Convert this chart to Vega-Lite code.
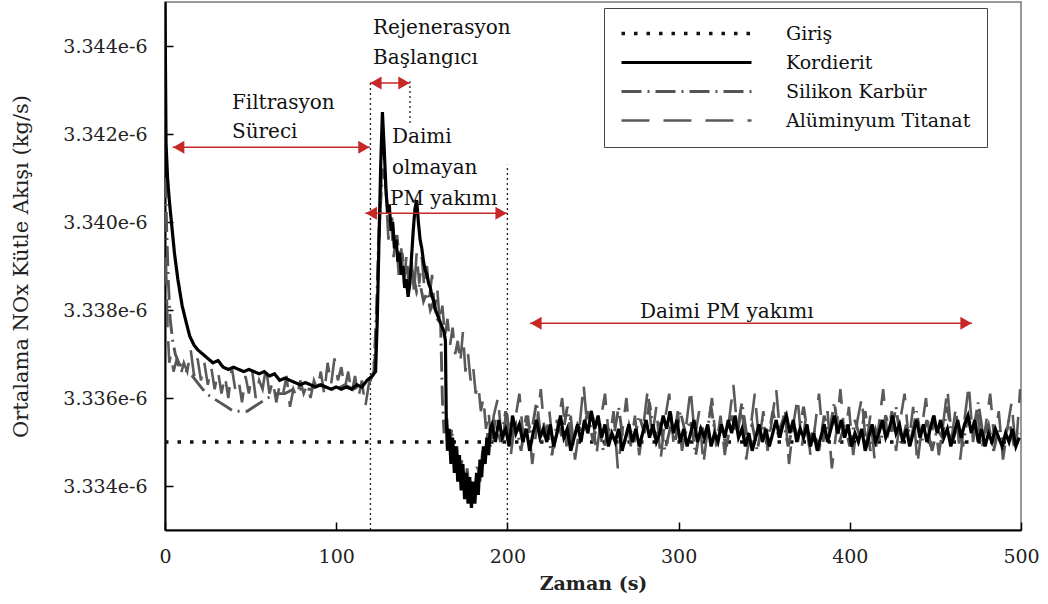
{
"$schema": "https://vega.github.io/schema/vega-lite/v6.json",
"width": 856,
"height": 528,
"autosize": {"type": "none"},
"padding": {"left": 165, "top": 2, "right": 27, "bottom": 74},
"background": "white",
"config": {
  "view": {"stroke": "#777", "strokeWidth": 1.5},
  "font": "DejaVu Serif",
  "axis": {"domainColor": "#000", "domainWidth": 2, "tickColor": "#000", "tickWidth": 1.5, "labelFont": "DejaVu Serif", "labelFontSize": 19, "labelColor": "#222", "titleFont": "DejaVu Serif", "titleColor": "#222", "grid": false, "labelFlush": false},
  "legend": {"labelFont": "DejaVu Serif", "labelFontSize": 19, "labelColor": "#111", "labelLimit": 400, "symbolType": "M-4,0H61", "symbolSize": 16, "labelOffset": 147, "padding": 16, "rowPadding": 9, "strokeColor": "#444", "fillColor": "white"}
},
"datasets": {
  "giris": [{"t": 0, "v": 3.335e-6}, {"t": 500, "v": 3.335e-6}],
  "kordierit": [
    {"t":0,"v":3.345e-6},{"t":0.6,"v":3.3418e-6},{"t":1.5,"v":3.341e-6},{"t":2.5,"v":3.3405e-6},{"t":4,"v":3.3399e-6},{"t":5.5,"v":3.3393e-6},{"t":7.5,"v":3.3387e-6},{"t":10,"v":3.3381e-6},{"t":12.5,"v":3.3377e-6},{"t":14.5,"v":3.3374e-6},{"t":17,"v":3.3372e-6},{"t":19,"v":3.3371e-6},{"t":22,"v":3.337e-6},{"t":25,"v":3.3369e-6},{"t":28,"v":3.3368e-6},{"t":31,"v":3.33685e-6},{"t":34,"v":3.3367e-6},{"t":37,"v":3.33665e-6},{"t":40,"v":3.3367e-6},{"t":43,"v":3.33665e-6},{"t":46,"v":3.3366e-6},{"t":49,"v":3.33665e-6},{"t":52,"v":3.3366e-6},{"t":55,"v":3.33655e-6},{"t":58,"v":3.3366e-6},{"t":61,"v":3.3365e-6},{"t":64,"v":3.33655e-6},{"t":67,"v":3.3364e-6},{"t":70,"v":3.33645e-6},{"t":73,"v":3.3364e-6},{"t":76,"v":3.33635e-6},{"t":79,"v":3.3363e-6},{"t":82,"v":3.33635e-6},{"t":85,"v":3.3363e-6},{"t":88,"v":3.33625e-6},{"t":91,"v":3.3363e-6},{"t":94,"v":3.33625e-6},{"t":97,"v":3.3362e-6},{"t":100,"v":3.33625e-6},{"t":103,"v":3.3362e-6},{"t":106,"v":3.33625e-6},{"t":109,"v":3.3362e-6},{"t":112,"v":3.3363e-6},{"t":115,"v":3.33625e-6},{"t":118,"v":3.3364e-6},{"t":121,"v":3.3365e-6},
    {"t":123,"v":3.3366e-6},{"t":124,"v":3.3378e-6},{"t":125,"v":3.3396e-6},{"t":126,"v":3.3413e-6},{"t":127,"v":3.3425e-6},{"t":128,"v":3.3417e-6},{"t":129,"v":3.3408e-6},{"t":130,"v":3.3402e-6},{"t":131,"v":3.3404e-6},{"t":132,"v":3.3398e-6},{"t":133,"v":3.34e-6},{"t":134,"v":3.3394e-6},{"t":135,"v":3.3396e-6},{"t":136,"v":3.3391e-6},{"t":137,"v":3.3393e-6},{"t":138,"v":3.3388e-6},{"t":139,"v":3.339e-6},{"t":140,"v":3.3385e-6},{"t":141,"v":3.3387e-6},{"t":142,"v":3.3383e-6},{"t":143,"v":3.3386e-6},{"t":144,"v":3.3392e-6},{"t":145,"v":3.3398e-6},{"t":146,"v":3.3403e-6},{"t":147,"v":3.3405e-6},{"t":148,"v":3.34e-6},{"t":149,"v":3.3396e-6},{"t":150,"v":3.3394e-6},{"t":151,"v":3.3391e-6},{"t":152,"v":3.3389e-6},{"t":153,"v":3.3388e-6},{"t":154,"v":3.3386e-6},{"t":155,"v":3.3385e-6},{"t":156,"v":3.3383e-6},{"t":157,"v":3.3382e-6},{"t":158,"v":3.338e-6},{"t":159,"v":3.3379e-6},{"t":160,"v":3.3378e-6},{"t":161,"v":3.3377e-6},{"t":162,"v":3.3376e-6},{"t":163,"v":3.3375e-6},{"t":163.8,"v":3.3373e-6},{"t":164.3,"v":3.3355e-6},{"t":165,"v":3.3348e-6},
    {"t":166,"v":3.3353e-6},{"t":167,"v":3.3345e-6},{"t":168,"v":3.3351e-6},{"t":169,"v":3.3343e-6},{"t":170,"v":3.3349e-6},{"t":171,"v":3.3341e-6},{"t":172,"v":3.3347e-6},{"t":173,"v":3.3339e-6},{"t":174,"v":3.3345e-6},{"t":175,"v":3.3337e-6},{"t":176,"v":3.3343e-6},{"t":177,"v":3.3336e-6},{"t":178,"v":3.3342e-6},{"t":179,"v":3.3335e-6},{"t":180,"v":3.3341e-6},{"t":181,"v":3.3336e-6},{"t":182,"v":3.3343e-6},{"t":183,"v":3.3338e-6},{"t":184,"v":3.3346e-6},{"t":185,"v":3.3342e-6},{"t":186,"v":3.3349e-6},{"t":187,"v":3.3345e-6},{"t":188,"v":3.3351e-6},{"t":189,"v":3.3347e-6},{"t":190,"v":3.3353e-6},
    {"t":191,"v":3.3354e-6},{"t":193,"v":3.335e-6},{"t":195,"v":3.3355e-6},{"t":197,"v":3.3351e-6},{"t":199,"v":3.3353e-6},{"t":201,"v":3.3349e-6},{"t":203,"v":3.3356e-6},{"t":205,"v":3.3352e-6},{"t":207,"v":3.3354e-6},{"t":209,"v":3.335e-6},{"t":211,"v":3.3353e-6},{"t":213,"v":3.3348e-6},{"t":215,"v":3.3352e-6},{"t":217,"v":3.3355e-6},{"t":219,"v":3.3351e-6},{"t":221,"v":3.3353e-6},{"t":223,"v":3.335e-6},{"t":225,"v":3.3354e-6},{"t":227,"v":3.3349e-6},{"t":229,"v":3.3352e-6},{"t":231,"v":3.3356e-6},{"t":233,"v":3.3351e-6},{"t":235,"v":3.3353e-6},{"t":237,"v":3.3348e-6},{"t":239,"v":3.3351e-6},{"t":241,"v":3.3354e-6},{"t":243,"v":3.335e-6},{"t":245,"v":3.3355e-6},{"t":247,"v":3.3352e-6},{"t":249,"v":3.3357e-6},{"t":251,"v":3.3353e-6},{"t":253,"v":3.3356e-6},{"t":255,"v":3.3351e-6},{"t":257,"v":3.3354e-6},{"t":259,"v":3.3349e-6},{"t":261,"v":3.3352e-6},{"t":263,"v":3.335e-6},{"t":265,"v":3.3353e-6},{"t":267,"v":3.3348e-6},{"t":269,"v":3.3351e-6},{"t":271,"v":3.3354e-6},{"t":273,"v":3.335e-6},{"t":275,"v":3.3353e-6},{"t":277,"v":3.3349e-6},{"t":279,"v":3.3352e-6},{"t":281,"v":3.3355e-6},{"t":283,"v":3.3351e-6},{"t":285,"v":3.3354e-6},{"t":287,"v":3.335e-6},{"t":289,"v":3.3352e-6},{"t":291,"v":3.3356e-6},{"t":293,"v":3.3353e-6},{"t":295,"v":3.3357e-6},{"t":297,"v":3.3352e-6},{"t":299,"v":3.3355e-6},{"t":301,"v":3.335e-6},{"t":303,"v":3.3353e-6},{"t":305,"v":3.3349e-6},{"t":307,"v":3.3352e-6},{"t":309,"v":3.3355e-6},{"t":311,"v":3.335e-6},{"t":313,"v":3.3353e-6},{"t":315,"v":3.3351e-6},{"t":317,"v":3.3354e-6},{"t":319,"v":3.3349e-6},{"t":321,"v":3.3352e-6},{"t":323,"v":3.335e-6},{"t":325,"v":3.3354e-6},{"t":327,"v":3.3351e-6},{"t":329,"v":3.3355e-6},{"t":331,"v":3.3352e-6},{"t":333,"v":3.3356e-6},{"t":335,"v":3.3351e-6},{"t":337,"v":3.3353e-6},{"t":339,"v":3.3349e-6},{"t":341,"v":3.3352e-6},{"t":343,"v":3.3348e-6},{"t":345,"v":3.3351e-6},{"t":347,"v":3.3354e-6},{"t":349,"v":3.335e-6},{"t":351,"v":3.3353e-6},{"t":353,"v":3.3349e-6},{"t":355,"v":3.3352e-6},{"t":357,"v":3.3355e-6},{"t":359,"v":3.3351e-6},{"t":361,"v":3.3354e-6},{"t":363,"v":3.3356e-6},{"t":365,"v":3.3352e-6},{"t":367,"v":3.3355e-6},{"t":369,"v":3.335e-6},{"t":371,"v":3.3353e-6},{"t":373,"v":3.3351e-6},{"t":375,"v":3.3354e-6},{"t":377,"v":3.3349e-6},{"t":379,"v":3.3352e-6},{"t":381,"v":3.3348e-6},{"t":383,"v":3.3351e-6},{"t":385,"v":3.3354e-6},{"t":387,"v":3.335e-6},{"t":389,"v":3.3353e-6},{"t":391,"v":3.3356e-6},{"t":393,"v":3.3352e-6},{"t":395,"v":3.3355e-6},{"t":397,"v":3.3351e-6},{"t":399,"v":3.3354e-6},{"t":401,"v":3.3349e-6},{"t":403,"v":3.3352e-6},{"t":405,"v":3.335e-6},{"t":407,"v":3.3353e-6},{"t":409,"v":3.3348e-6},{"t":411,"v":3.3351e-6},{"t":413,"v":3.3354e-6},{"t":415,"v":3.335e-6},{"t":417,"v":3.3352e-6},{"t":419,"v":3.3355e-6},{"t":421,"v":3.3351e-6},{"t":423,"v":3.3353e-6},{"t":425,"v":3.3356e-6},{"t":427,"v":3.3352e-6},{"t":429,"v":3.3354e-6},{"t":431,"v":3.335e-6},{"t":433,"v":3.3353e-6},{"t":435,"v":3.3349e-6},{"t":437,"v":3.3352e-6},{"t":439,"v":3.3355e-6},{"t":441,"v":3.3351e-6},{"t":443,"v":3.3354e-6},{"t":445,"v":3.335e-6},{"t":447,"v":3.3353e-6},{"t":449,"v":3.3356e-6},{"t":451,"v":3.3352e-6},{"t":453,"v":3.3355e-6},{"t":455,"v":3.3351e-6},{"t":457,"v":3.3353e-6},{"t":459,"v":3.3349e-6},{"t":461,"v":3.3352e-6},{"t":463,"v":3.3355e-6},{"t":465,"v":3.3351e-6},{"t":467,"v":3.3354e-6},{"t":469,"v":3.3356e-6},{"t":471,"v":3.3352e-6},{"t":473,"v":3.3355e-6},{"t":475,"v":3.335e-6},{"t":477,"v":3.3353e-6},{"t":479,"v":3.3349e-6},{"t":481,"v":3.3352e-6},{"t":483,"v":3.335e-6},{"t":485,"v":3.3353e-6},{"t":487,"v":3.3351e-6},{"t":489,"v":3.3349e-6},{"t":491,"v":3.3352e-6},{"t":493,"v":3.335e-6},{"t":495,"v":3.3353e-6},{"t":497,"v":3.3349e-6},{"t":499,"v":3.3351e-6}
  ],
  "silikon": [
    {"t":0.3,"v":3.341e-6},{"t":1,"v":3.3398e-6},{"t":2,"v":3.3386e-6},{"t":3,"v":3.3378e-6},{"t":4.5,"v":3.3373e-6},{"t":6,"v":3.337e-6},{"t":8,"v":3.3368e-6},{"t":10,"v":3.3367e-6},{"t":13,"v":3.3366e-6},{"t":16,"v":3.3365e-6},{"t":20,"v":3.3363e-6},{"t":24,"v":3.3361e-6},{"t":28,"v":3.336e-6},{"t":32,"v":3.3359e-6},{"t":36,"v":3.3358e-6},{"t":40,"v":3.3357e-6},{"t":44,"v":3.3357e-6},{"t":48,"v":3.3357e-6},{"t":52,"v":3.3358e-6},{"t":56,"v":3.3359e-6},{"t":60,"v":3.336e-6},{"t":65,"v":3.3361e-6},{"t":70,"v":3.3361e-6},{"t":75,"v":3.3362e-6},{"t":80,"v":3.3362e-6},{"t":85,"v":3.3362e-6},{"t":90,"v":3.3363e-6},{"t":95,"v":3.3362e-6},{"t":100,"v":3.3362e-6},{"t":105,"v":3.3363e-6},{"t":110,"v":3.3362e-6},{"t":115,"v":3.3363e-6},{"t":120,"v":3.3364e-6},{"t":122,"v":3.3366e-6},
    {"t":123.5,"v":3.338e-6},{"t":125,"v":3.3398e-6},{"t":126.5,"v":3.3408e-6},{"t":128,"v":3.3412e-6},{"t":129.5,"v":3.3405e-6},{"t":131,"v":3.3399e-6},{"t":132.5,"v":3.3401e-6},{"t":134,"v":3.3395e-6},{"t":135.5,"v":3.3397e-6},{"t":137,"v":3.3391e-6},{"t":138.5,"v":3.3393e-6},{"t":140,"v":3.3388e-6},{"t":141.5,"v":3.339e-6},{"t":143,"v":3.3386e-6},{"t":145,"v":3.3388e-6},{"t":147,"v":3.3384e-6},{"t":149,"v":3.3386e-6},{"t":151,"v":3.3382e-6},{"t":153,"v":3.3384e-6},{"t":155,"v":3.338e-6},{"t":157,"v":3.3382e-6},{"t":159,"v":3.3378e-6},{"t":161,"v":3.3377e-6},{"t":162,"v":3.336e-6},{"t":163,"v":3.3352e-6},{"t":164.5,"v":3.3356e-6},{"t":166,"v":3.3348e-6},{"t":167.5,"v":3.3353e-6},{"t":169,"v":3.3345e-6},{"t":170.5,"v":3.3349e-6},{"t":172,"v":3.3342e-6},{"t":173.5,"v":3.3346e-6},{"t":175,"v":3.3339e-6},{"t":176.5,"v":3.3344e-6},{"t":178,"v":3.3337e-6},{"t":179.5,"v":3.3341e-6},{"t":181,"v":3.3338e-6},{"t":182.5,"v":3.3345e-6},{"t":184,"v":3.3341e-6},{"t":185.5,"v":3.3348e-6},{"t":187,"v":3.3346e-6},{"t":188.5,"v":3.3352e-6},{"t":190,"v":3.3349e-6},
    {"t":193,"v":3.3355e-6},{"t":196,"v":3.335e-6},{"t":199,"v":3.3357e-6},{"t":202,"v":3.3351e-6},{"t":205,"v":3.3354e-6},{"t":208,"v":3.3348e-6},{"t":211,"v":3.3356e-6},{"t":214,"v":3.3352e-6},{"t":217,"v":3.3359e-6},{"t":220,"v":3.335e-6},{"t":223,"v":3.3353e-6},{"t":226,"v":3.3347e-6},{"t":229,"v":3.3355e-6},{"t":232,"v":3.3351e-6},{"t":235,"v":3.3358e-6},{"t":238,"v":3.3349e-6},{"t":241,"v":3.3354e-6},{"t":244,"v":3.3352e-6},{"t":247,"v":3.3357e-6},{"t":250,"v":3.335e-6},{"t":253,"v":3.3355e-6},{"t":256,"v":3.3348e-6},{"t":259,"v":3.3353e-6},{"t":262,"v":3.3351e-6},{"t":265,"v":3.3358e-6},{"t":268,"v":3.3349e-6},{"t":271,"v":3.3354e-6},{"t":274,"v":3.335e-6},{"t":277,"v":3.3356e-6},{"t":280,"v":3.3352e-6},{"t":283,"v":3.3359e-6},{"t":286,"v":3.3351e-6},{"t":289,"v":3.3355e-6},{"t":292,"v":3.3348e-6},{"t":295,"v":3.3353e-6},{"t":298,"v":3.335e-6},{"t":301,"v":3.3357e-6},{"t":304,"v":3.3352e-6},{"t":307,"v":3.3355e-6},{"t":310,"v":3.3347e-6},{"t":313,"v":3.3354e-6},{"t":316,"v":3.3351e-6},{"t":319,"v":3.3358e-6},{"t":322,"v":3.335e-6},{"t":325,"v":3.3353e-6},{"t":328,"v":3.3349e-6},{"t":331,"v":3.3356e-6},{"t":334,"v":3.3352e-6},{"t":337,"v":3.3359e-6},{"t":340,"v":3.3351e-6},{"t":343,"v":3.3354e-6},{"t":346,"v":3.3348e-6},{"t":349,"v":3.3355e-6},{"t":352,"v":3.335e-6},{"t":355,"v":3.3357e-6},{"t":358,"v":3.3352e-6},{"t":361,"v":3.3355e-6},{"t":364,"v":3.3349e-6},{"t":367,"v":3.3354e-6},{"t":370,"v":3.3351e-6},{"t":373,"v":3.3358e-6},{"t":376,"v":3.335e-6},{"t":379,"v":3.3353e-6},{"t":382,"v":3.3348e-6},{"t":385,"v":3.3356e-6},{"t":388,"v":3.3352e-6},{"t":391,"v":3.3359e-6},{"t":394,"v":3.335e-6},{"t":397,"v":3.3354e-6},{"t":400,"v":3.3349e-6},{"t":403,"v":3.3355e-6},{"t":406,"v":3.3351e-6},{"t":409,"v":3.3357e-6},{"t":412,"v":3.3348e-6},{"t":415,"v":3.3353e-6},{"t":418,"v":3.335e-6},{"t":421,"v":3.3356e-6},{"t":424,"v":3.3352e-6},{"t":427,"v":3.3358e-6},{"t":430,"v":3.3349e-6},{"t":433,"v":3.3354e-6},{"t":436,"v":3.3351e-6},{"t":439,"v":3.3357e-6},{"t":442,"v":3.335e-6},{"t":445,"v":3.3355e-6},{"t":448,"v":3.3348e-6},{"t":451,"v":3.3353e-6},{"t":454,"v":3.3351e-6},{"t":457,"v":3.3358e-6},{"t":460,"v":3.335e-6},{"t":463,"v":3.3354e-6},{"t":466,"v":3.3349e-6},{"t":469,"v":3.3356e-6},{"t":472,"v":3.3352e-6},{"t":475,"v":3.3359e-6},{"t":478,"v":3.3351e-6},{"t":481,"v":3.3354e-6},{"t":484,"v":3.3348e-6},{"t":487,"v":3.3353e-6},{"t":490,"v":3.335e-6},{"t":493,"v":3.3355e-6},{"t":496,"v":3.3349e-6},{"t":499,"v":3.3352e-6}
  ],
  "alu": [
    {"t":0.5,"v":3.3392e-6},{"t":1.5,"v":3.3376e-6},{"t":2.5,"v":3.3368e-6},{"t":3.5,"v":3.337e-6},{"t":5,"v":3.3366e-6},{"t":7,"v":3.3369e-6},{"t":9,"v":3.3365e-6},{"t":11,"v":3.3368e-6},{"t":13,"v":3.3366e-6},{"t":15,"v":3.3371e-6},{"t":17,"v":3.3365e-6},{"t":19,"v":3.3369e-6},{"t":21,"v":3.3364e-6},{"t":23,"v":3.3368e-6},{"t":25,"v":3.3363e-6},{"t":27,"v":3.3367e-6},{"t":29,"v":3.3362e-6},{"t":31,"v":3.3366e-6},{"t":33,"v":3.3361e-6},{"t":35,"v":3.3365e-6},{"t":37,"v":3.336e-6},{"t":39,"v":3.3367e-6},{"t":41,"v":3.3362e-6},{"t":43,"v":3.3364e-6},{"t":45,"v":3.3359e-6},{"t":47,"v":3.3365e-6},{"t":49,"v":3.3361e-6},{"t":51,"v":3.3366e-6},{"t":53,"v":3.336e-6},{"t":55,"v":3.3364e-6},{"t":57,"v":3.3362e-6},{"t":59,"v":3.3367e-6},{"t":61,"v":3.3361e-6},{"t":63,"v":3.3364e-6},{"t":65,"v":3.3359e-6},{"t":67,"v":3.3363e-6},{"t":69,"v":3.3361e-6},{"t":71,"v":3.3365e-6},{"t":73,"v":3.3358e-6},{"t":75,"v":3.3362e-6},{"t":77,"v":3.336e-6},{"t":79,"v":3.3364e-6},{"t":81,"v":3.3361e-6},{"t":83,"v":3.3363e-6},{"t":85,"v":3.336e-6},{"t":87,"v":3.3364e-6},{"t":89,"v":3.3362e-6},{"t":91,"v":3.3366e-6},{"t":93,"v":3.3361e-6},{"t":95,"v":3.3368e-6},{"t":97,"v":3.3363e-6},{"t":99,"v":3.3369e-6},{"t":101,"v":3.3364e-6},{"t":103,"v":3.3367e-6},{"t":105,"v":3.3362e-6},{"t":107,"v":3.3366e-6},{"t":109,"v":3.3361e-6},{"t":111,"v":3.3365e-6},{"t":113,"v":3.336e-6},{"t":115,"v":3.3364e-6},{"t":117,"v":3.3358e-6},{"t":119,"v":3.3363e-6},{"t":121,"v":3.3366e-6},{"t":123,"v":3.337e-6},
    {"t":124.5,"v":3.3388e-6},{"t":126,"v":3.3406e-6},{"t":127.5,"v":3.3418e-6},{"t":129,"v":3.3407e-6},{"t":130.5,"v":3.3396e-6},{"t":132,"v":3.3401e-6},{"t":133.5,"v":3.3392e-6},{"t":135,"v":3.3397e-6},{"t":136.5,"v":3.3388e-6},{"t":138,"v":3.3394e-6},{"t":139.5,"v":3.3386e-6},{"t":141,"v":3.3392e-6},{"t":142.5,"v":3.3385e-6},{"t":144,"v":3.3391e-6},{"t":145.5,"v":3.3384e-6},{"t":147,"v":3.3393e-6},{"t":148.5,"v":3.3386e-6},{"t":150,"v":3.3392e-6},{"t":151.5,"v":3.3385e-6},{"t":153,"v":3.339e-6},{"t":154.5,"v":3.3383e-6},{"t":156,"v":3.3388e-6},{"t":157.5,"v":3.338e-6},{"t":159,"v":3.3385e-6},{"t":160.5,"v":3.3377e-6},{"t":162,"v":3.3381e-6},{"t":163.5,"v":3.3374e-6},{"t":165,"v":3.3378e-6},{"t":166.5,"v":3.3372e-6},{"t":168,"v":3.3376e-6},{"t":169.5,"v":3.337e-6},{"t":171,"v":3.3373e-6},{"t":172.5,"v":3.3368e-6},{"t":174,"v":3.3375e-6},{"t":175.5,"v":3.3366e-6},{"t":177,"v":3.337e-6},{"t":178.5,"v":3.3364e-6},{"t":180,"v":3.3367e-6},{"t":181.5,"v":3.3361e-6},{"t":183,"v":3.3363e-6},{"t":184.5,"v":3.3357e-6},{"t":186,"v":3.336e-6},{"t":187.5,"v":3.3353e-6},{"t":189,"v":3.3357e-6},{"t":190.5,"v":3.335e-6},{"t":192,"v":3.3356e-6},
    {"t":194.5,"v":3.336e-6},{"t":197,"v":3.3349e-6},{"t":199.5,"v":3.3358e-6},{"t":202,"v":3.3347e-6},{"t":204.5,"v":3.3355e-6},{"t":207,"v":3.3361e-6},{"t":209.5,"v":3.335e-6},{"t":212,"v":3.3356e-6},{"t":214.5,"v":3.3345e-6},{"t":217,"v":3.3353e-6},{"t":219.5,"v":3.3362e-6},{"t":222,"v":3.3351e-6},{"t":224.5,"v":3.3357e-6},{"t":227,"v":3.3348e-6},{"t":229.5,"v":3.3354e-6},{"t":232,"v":3.336e-6},{"t":234.5,"v":3.3349e-6},{"t":237,"v":3.3356e-6},{"t":239.5,"v":3.3346e-6},{"t":242,"v":3.3353e-6},{"t":244.5,"v":3.3363e-6},{"t":247,"v":3.3352e-6},{"t":249.5,"v":3.3358e-6},{"t":252,"v":3.3347e-6},{"t":254.5,"v":3.3355e-6},{"t":257,"v":3.3361e-6},{"t":259.5,"v":3.335e-6},{"t":262,"v":3.3357e-6},{"t":264.5,"v":3.3344e-6},{"t":267,"v":3.3352e-6},{"t":269.5,"v":3.336e-6},{"t":272,"v":3.3349e-6},{"t":274.5,"v":3.3356e-6},{"t":277,"v":3.3347e-6},{"t":279.5,"v":3.3354e-6},{"t":282,"v":3.3362e-6},{"t":284.5,"v":3.3351e-6},{"t":287,"v":3.3358e-6},{"t":289.5,"v":3.3346e-6},{"t":292,"v":3.3355e-6},{"t":294.5,"v":3.3361e-6},{"t":297,"v":3.335e-6},{"t":299.5,"v":3.3357e-6},{"t":302,"v":3.3348e-6},{"t":304.5,"v":3.3354e-6},{"t":307,"v":3.3362e-6},{"t":309.5,"v":3.3351e-6},{"t":312,"v":3.3357e-6},{"t":314.5,"v":3.3345e-6},{"t":317,"v":3.3353e-6},{"t":319.5,"v":3.336e-6},{"t":322,"v":3.3349e-6},{"t":324.5,"v":3.3356e-6},{"t":327,"v":3.3347e-6},{"t":329.5,"v":3.3355e-6},{"t":332,"v":3.3363e-6},{"t":334.5,"v":3.3352e-6},{"t":337,"v":3.3358e-6},{"t":339.5,"v":3.3346e-6},{"t":342,"v":3.3353e-6},{"t":344.5,"v":3.3361e-6},{"t":347,"v":3.335e-6},{"t":349.5,"v":3.3357e-6},{"t":352,"v":3.3348e-6},{"t":354.5,"v":3.3355e-6},{"t":357,"v":3.3362e-6},{"t":359.5,"v":3.3351e-6},{"t":362,"v":3.3358e-6},{"t":364.5,"v":3.3345e-6},{"t":367,"v":3.3354e-6},{"t":369.5,"v":3.336e-6},{"t":372,"v":3.3349e-6},{"t":374.5,"v":3.3356e-6},{"t":377,"v":3.3347e-6},{"t":379.5,"v":3.3353e-6},{"t":382,"v":3.3361e-6},{"t":384.5,"v":3.335e-6},{"t":387,"v":3.3357e-6},{"t":389.5,"v":3.3344e-6},{"t":392,"v":3.3352e-6},{"t":394.5,"v":3.3362e-6},{"t":397,"v":3.3351e-6},{"t":399.5,"v":3.3358e-6},{"t":402,"v":3.3347e-6},{"t":404.5,"v":3.3355e-6},{"t":407,"v":3.336e-6},{"t":409.5,"v":3.3349e-6},{"t":412,"v":3.3356e-6},{"t":414.5,"v":3.3346e-6},{"t":417,"v":3.3354e-6},{"t":419.5,"v":3.3362e-6},{"t":422,"v":3.3351e-6},{"t":424.5,"v":3.3357e-6},{"t":427,"v":3.3348e-6},{"t":429.5,"v":3.3355e-6},{"t":432,"v":3.3361e-6},{"t":434.5,"v":3.335e-6},{"t":437,"v":3.3358e-6},{"t":439.5,"v":3.3345e-6},{"t":442,"v":3.3353e-6},{"t":444.5,"v":3.336e-6},{"t":447,"v":3.3349e-6},{"t":449.5,"v":3.3356e-6},{"t":452,"v":3.3347e-6},{"t":454.5,"v":3.3354e-6},{"t":457,"v":3.3362e-6},{"t":459.5,"v":3.3351e-6},{"t":462,"v":3.3358e-6},{"t":464.5,"v":3.3346e-6},{"t":467,"v":3.3355e-6},{"t":469.5,"v":3.3363e-6},{"t":472,"v":3.335e-6},{"t":474.5,"v":3.3357e-6},{"t":477,"v":3.3348e-6},{"t":479.5,"v":3.3354e-6},{"t":482,"v":3.3361e-6},{"t":484.5,"v":3.335e-6},{"t":487,"v":3.3357e-6},{"t":489.5,"v":3.3346e-6},{"t":492,"v":3.3353e-6},{"t":494.5,"v":3.3359e-6},{"t":497,"v":3.3348e-6},{"t":499.5,"v":3.3362e-6}
  ],
  "arrows": [
    {"t": 4.5, "t2": 119.7, "v": 3.3417e-6},
    {"t": 119.7, "t2": 143.1, "v": 3.34316e-6},
    {"t": 117, "t2": 199.8, "v": 3.3402e-6},
    {"t": 213.2, "t2": 471.4, "v": 3.3377e-6}
  ],
  "vlines": [
    {"t": 120, "v": 3.333e-6, "v2": 3.3432e-6},
    {"t": 143.1, "v": 3.34225e-6, "v2": 3.3432e-6},
    {"t": 200, "v": 3.333e-6, "v2": 3.3413e-6}
  ],
  "notes": [
    {"t": 39.1, "v": 3.3427e-6, "label": "Filtrasyon"},
    {"t": 39.1, "v": 3.34205e-6, "label": "Süreci"},
    {"t": 121.5, "v": 3.34441e-6, "label": "Rejenerasyon"},
    {"t": 121.5, "v": 3.34373e-6, "label": "Başlangıcı"},
    {"t": 132.6, "v": 3.34193e-6, "label": "Daimi"},
    {"t": 132.6, "v": 3.34123e-6, "label": "olmayan"},
    {"t": 131.4, "v": 3.34052e-6, "label": "PM yakımı"},
    {"t": 277.5, "v": 3.33795e-6, "label": "Daimi PM yakımı"}
  ]
},
"encoding": {
  "x": {"field": "t", "type": "quantitative", "title": "Zaman (s)",
        "scale": {"domain": [0, 500], "nice": false, "zero": false},
        "axis": {"values": [0, 100, 200, 300, 400, 500], "format": "d", "tickSize": -8, "labelPadding": 25, "titlePadding": 8, "titleFontSize": 19, "titleFontWeight": "bold"}},
  "y": {"field": "v", "type": "quantitative", "title": "Ortalama NOx Kütle Akışı (kg/s)",
        "scale": {"domain": [3.333e-6, 3.345e-6], "nice": false, "zero": false},
        "axis": {"values": [3.334e-6, 3.336e-6, 3.338e-6, 3.34e-6, 3.342e-6, 3.344e-6], "format": ".3e", "tickSize": -8, "labelPadding": 26, "titlePadding": 31, "titleFontSize": 21, "titleFontWeight": "normal"}}
},
"layer": [
  {"data": {"name": "vlines"}, "mark": {"type": "rule", "strokeDash": [2, 3], "strokeWidth": 1.3, "color": "#222"}, "encoding": {"y2": {"field": "v2"}}},
  {"data": {"name": "giris"}, "mark": {"type": "line", "clip": true},
   "encoding": {
     "strokeDash": {"datum": "Giriş", "scale": {"domain": ["Giriş", "Kordierit", "Silikon Karbür", "Alüminyum Titanat"], "range": [[3.5, 9], [1, 0], [20, 6, 2, 6], [28, 14]]},
                    "legend": {"orient": "none", "legendX": 439, "legendY": 6, "title": null}},
     "color": {"datum": "Giriş", "scale": {"domain": ["Giriş", "Kordierit", "Silikon Karbür", "Alüminyum Titanat"], "range": ["#111", "#000", "#555", "#5a5a5a"]},
               "legend": {"orient": "none", "legendX": 439, "legendY": 6, "title": null}},
     "strokeWidth": {"datum": "Giriş", "scale": {"domain": ["Giriş", "Kordierit", "Silikon Karbür", "Alüminyum Titanat"], "range": [3.5, 2.6, 1.3, 1.3]},
               "legend": {"orient": "none", "legendX": 439, "legendY": 6, "title": null}}
   }},
  {"data": {"name": "alu"}, "mark": {"type": "line", "clip": true},
   "encoding": {"strokeDash": {"datum": "Alüminyum Titanat"}, "color": {"datum": "Alüminyum Titanat"}, "strokeWidth": {"datum": "Alüminyum Titanat"}}},
  {"data": {"name": "silikon"}, "mark": {"type": "line", "clip": true},
   "encoding": {"strokeDash": {"datum": "Silikon Karbür"}, "color": {"datum": "Silikon Karbür"}, "strokeWidth": {"datum": "Silikon Karbür"}}},
  {"data": {"name": "kordierit"}, "mark": {"type": "line", "clip": true},
   "encoding": {"strokeDash": {"datum": "Kordierit"}, "color": {"datum": "Kordierit"}, "strokeWidth": {"datum": "Kordierit"}}},
  {"data": {"name": "arrows"}, "mark": {"type": "rule", "color": "#c62828", "strokeWidth": 1.6}, "encoding": {"x2": {"field": "t2"}}},
  {"data": {"name": "arrows"}, "mark": {"type": "point", "shape": "triangle-left", "filled": true, "size": 170, "color": "#c62828", "opacity": 1, "xOffset": 6}, "encoding": {}},
  {"data": {"name": "arrows"}, "mark": {"type": "point", "shape": "triangle-right", "filled": true, "size": 170, "color": "#c62828", "opacity": 1, "xOffset": -6},
   "encoding": {"x": {"field": "t2", "type": "quantitative", "title": "Zaman (s)"}}},
  {"data": {"name": "notes"}, "mark": {"type": "text", "align": "left", "baseline": "middle", "fontSize": 20, "font": "DejaVu Serif", "color": "#111"},
   "encoding": {"text": {"field": "label"}}}
]
}
